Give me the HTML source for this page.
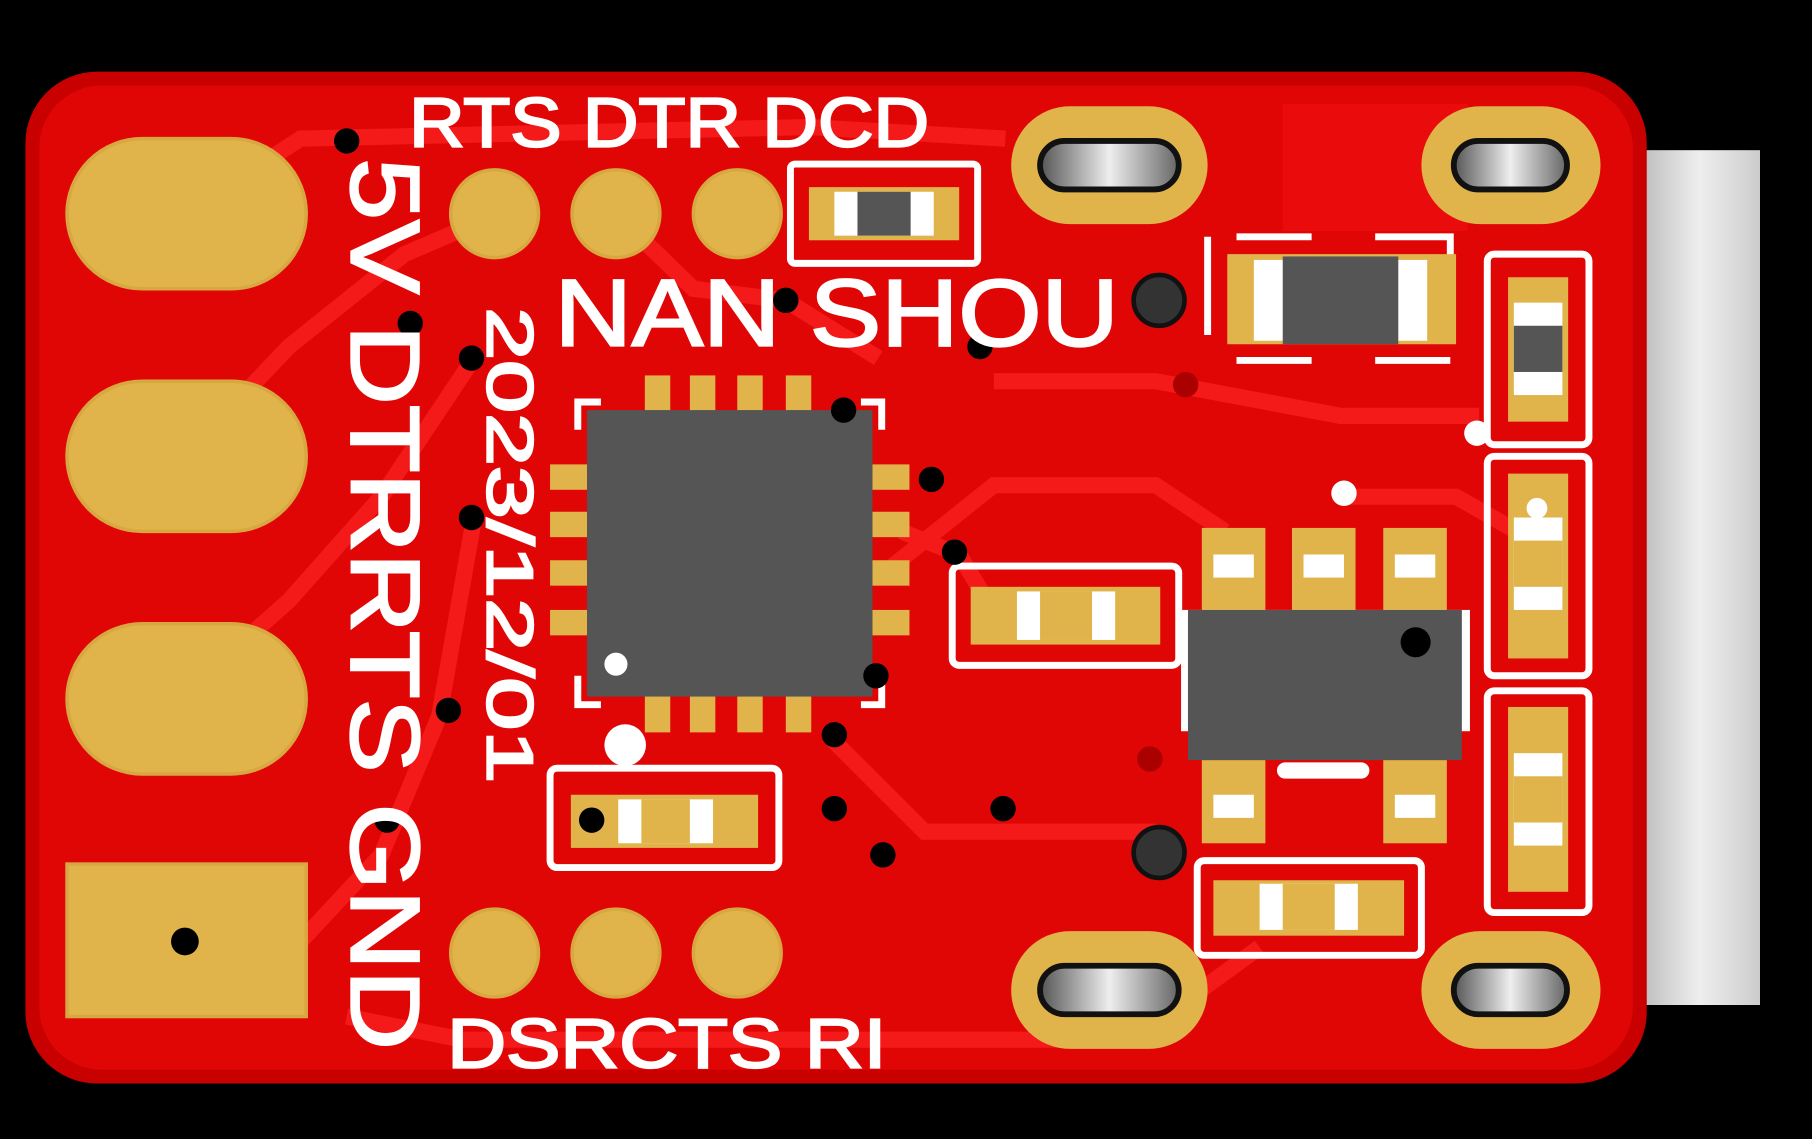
<!DOCTYPE html>
<html><head><meta charset="utf-8"><style>
html,body{margin:0;padding:0;background:#000;width:1812px;height:1139px;overflow:hidden}
svg{display:block}
text{font-family:"Liberation Sans",sans-serif;font-weight:normal;fill:#fff;stroke:#fff;stroke-width:2}
</style></head><body>
<svg width="1812" height="1139" viewBox="0 0 1568 986" preserveAspectRatio="none">
<defs>
<linearGradient id="cg" x1="0" x2="1"><stop offset="0" stop-color="#bbb"/><stop offset="0.5" stop-color="#eee"/><stop offset="1" stop-color="#ccc"/></linearGradient>
<linearGradient id="sl" x1="0" x2="1"><stop offset="0" stop-color="#555"/><stop offset="0.5" stop-color="#eee"/><stop offset="1" stop-color="#666"/></linearGradient>
</defs>
<rect width="1568" height="986" fill="#000"/>
<rect x="1418" y="130" width="105" height="740" fill="url(#cg)"/>
<rect x="22" y="62" width="1403" height="876" rx="62" fill="#c80000"/>
<rect x="34" y="74" width="1379" height="852" rx="54" fill="#e00606"/>
<g stroke="#f41a1a" stroke-width="14" fill="none">
<path d="M160 185 L260 120 L700 110 L870 120"/>
<path d="M160 395 L250 300 L350 220 L420 190"/>
<path d="M160 600 L250 520 L330 430 L410 310"/>
<path d="M260 815 L330 740 L380 620 L410 450"/>
<path d="M533 185 L600 250 L680 260 L760 310"/>
<path d="M760 500 L860 420 L1000 420 L1060 460"/>
<path d="M720 640 L800 720 L1000 720"/>
<path d="M860 330 L1000 330 L1160 360 L1280 360"/>
<path d="M1090 820 L980 900 L400 900 L300 880"/>
<path d="M1160 430 L1260 430 L1330 470"/>
<path d="M1160 160 L1230 110 L1300 120"/>
<path d="M780 460 L830 480 L860 530"/>
</g>
<rect x="1110" y="90" width="160" height="110" fill="#ea0c0c"/>
<g fill="#e0b44a" stroke="#d8a840" stroke-width="3">
<rect x="58" y="120" width="207" height="130" rx="65"/>
<rect x="58" y="330" width="207" height="130" rx="65"/>
<rect x="58" y="540" width="207" height="130" rx="65"/>
<rect x="58" y="748" width="207" height="132"/>
<circle cx="428" cy="185" r="38"/><circle cx="533" cy="185" r="38"/><circle cx="638" cy="185" r="38"/>
<circle cx="428" cy="825" r="38"/><circle cx="533" cy="825" r="38"/><circle cx="638" cy="825" r="38"/>
</g>
<circle cx="160" cy="815" r="12" fill="#000"/>
<g fill="#e0b44a">
<rect x="875" y="92" width="170" height="102" rx="51"/>
<rect x="1230" y="92" width="155" height="102" rx="51"/>
<rect x="875" y="806" width="170" height="102" rx="51"/>
<rect x="1230" y="806" width="155" height="102" rx="51"/>
</g>
<g fill="url(#sl)" stroke="#111" stroke-width="5">
<rect x="900" y="122" width="120" height="42" rx="21"/>
<rect x="1258" y="122" width="98" height="42" rx="21"/>
<rect x="900" y="836" width="120" height="42" rx="21"/>
<rect x="1258" y="836" width="98" height="42" rx="21"/>
</g>
<g fill="#e0b44a">
<rect x="558" y="325" width="22" height="32"/><rect x="597" y="325" width="22" height="32"/><rect x="638" y="325" width="22" height="32"/><rect x="680" y="325" width="22" height="32"/>
<rect x="558" y="602" width="22" height="32"/><rect x="597" y="602" width="22" height="32"/><rect x="638" y="602" width="22" height="32"/><rect x="680" y="602" width="22" height="32"/>
<rect x="476" y="402" width="32" height="22"/><rect x="476" y="443" width="32" height="22"/><rect x="476" y="485" width="32" height="22"/><rect x="476" y="528" width="32" height="22"/>
<rect x="755" y="402" width="32" height="22"/><rect x="755" y="443" width="32" height="22"/><rect x="755" y="485" width="32" height="22"/><rect x="755" y="528" width="32" height="22"/>
</g>
<rect x="508" y="355" width="247" height="248" fill="#555"/>
<g stroke="#fff" stroke-width="6" fill="none">
<path d="M500 372 V348 H520"/><path d="M745 348 H763 V372"/><path d="M500 585 V610 H520"/><path d="M745 610 H763 V585"/>
</g>
<circle cx="533" cy="575" r="10" fill="#fff"/>
<g fill="#e0b44a">
<rect x="1040" y="457" width="55" height="72"/><rect x="1118" y="457" width="55" height="72"/><rect x="1197" y="457" width="55" height="72"/>
<rect x="1040" y="658" width="55" height="72"/><rect x="1197" y="658" width="55" height="72"/>
</g>
<g fill="#fff"><rect x="1050" y="480" width="35" height="20"/><rect x="1128" y="480" width="35" height="20"/><rect x="1207" y="480" width="35" height="20"/><rect x="1050" y="688" width="35" height="20"/><rect x="1207" y="688" width="35" height="20"/><rect x="1105" y="660" width="80" height="14" rx="7"/></g>
<rect x="1022" y="528" width="250" height="105" fill="#fff"/>
<rect x="1028" y="528" width="237" height="130" fill="#555"/>
<circle cx="1225" cy="556" r="13" fill="#000"/>
<g fill="none" stroke="#fff" stroke-width="6">
<rect x="684" y="142" width="162" height="86" rx="4"/>
<rect x="824" y="490" width="196" height="86" rx="6"/>
<rect x="476" y="665" width="198" height="86" rx="6"/>
<rect x="1036" y="745" width="194" height="82" rx="6"/>
<path d="M1045 205 V290 M1070 205 H1135 M1190 205 H1255 V290 M1070 312 H1135 M1190 312 H1255"/>
<rect x="1287" y="220" width="88" height="165" rx="6"/>
<rect x="1287" y="395" width="88" height="190" rx="6"/>
<rect x="1287" y="598" width="88" height="192" rx="6"/>
</g>
<g fill="#e0b44a">
<rect x="700" y="162" width="130" height="46"/>
<rect x="840" y="508" width="164" height="50"/>
<rect x="494" y="688" width="162" height="46"/>
<rect x="1050" y="762" width="165" height="48"/>
<rect x="1062" y="220" width="198" height="78"/>
<rect x="1305" y="240" width="52" height="125"/>
<rect x="1305" y="410" width="52" height="160"/>
<rect x="1305" y="612" width="52" height="160"/>
</g>
<g fill="#fff">
<rect x="722" y="166" width="86" height="38"/><rect x="880" y="512" width="85" height="42"/><rect x="535" y="692" width="82" height="38"/><rect x="1090" y="765" width="85" height="40"/>
<rect x="1085" y="225" width="150" height="70"/><rect x="1310" y="262" width="42" height="80"/><rect x="1310" y="448" width="42" height="80"/><rect x="1310" y="652" width="42" height="80"/>
</g>
<g fill="#555">
<rect x="742" y="166" width="46" height="38"/><rect x="1110" y="222" width="100" height="76"/><rect x="1310" y="282" width="42" height="40"/>
</g>
<g fill="#e0b44a"><rect x="900" y="512" width="45" height="42"/><rect x="555" y="692" width="42" height="38"/><rect x="1110" y="765" width="45" height="40"/><rect x="1310" y="468" width="42" height="40"/><rect x="1310" y="672" width="42" height="40"/></g>
<g fill="#000">
<circle cx="300" cy="122" r="11"/><circle cx="355" cy="280" r="11"/><circle cx="408" cy="310" r="11"/><circle cx="408" cy="448" r="11"/><circle cx="388" cy="615" r="11"/><circle cx="335" cy="710" r="11"/>
<circle cx="680" cy="260" r="11"/><circle cx="848" cy="300" r="11"/><circle cx="730" cy="355" r="11"/><circle cx="806" cy="415" r="11"/><circle cx="826" cy="478" r="11"/><circle cx="758" cy="585" r="11"/><circle cx="722" cy="636" r="11"/><circle cx="722" cy="700" r="11"/><circle cx="764" cy="740" r="11"/><circle cx="868" cy="700" r="11"/><circle cx="512" cy="710" r="11"/>
</g>
<g fill="#333" stroke="#111" stroke-width="4"><circle cx="1003" cy="260" r="22"/><circle cx="1003" cy="738" r="22"/></g>
<g fill="#a00"><circle cx="1026" cy="333" r="11"/><circle cx="995" cy="657" r="11"/></g>
<g fill="#fff"><circle cx="1163" cy="427" r="11"/><circle cx="1278" cy="375" r="11"/><circle cx="1330" cy="440" r="9"/><circle cx="541" cy="645" r="18"/></g>
<text x="354" y="127" font-size="60" textLength="450" lengthAdjust="spacingAndGlyphs">RTS DTR DCD</text>
<text x="480" y="299" font-size="82" textLength="488" lengthAdjust="spacingAndGlyphs">NAN  SHOU</text>
<text x="387" y="924" font-size="60" textLength="380" lengthAdjust="spacingAndGlyphs">DSRCTS RI</text>
<text transform="translate(304,137) rotate(90)" font-size="84" textLength="772" lengthAdjust="spacingAndGlyphs">5V DTRRTS GND</text>
<text transform="translate(422,266) rotate(90)" font-size="56" textLength="412" lengthAdjust="spacingAndGlyphs">2023/12/01</text>
</svg>
</body></html>
